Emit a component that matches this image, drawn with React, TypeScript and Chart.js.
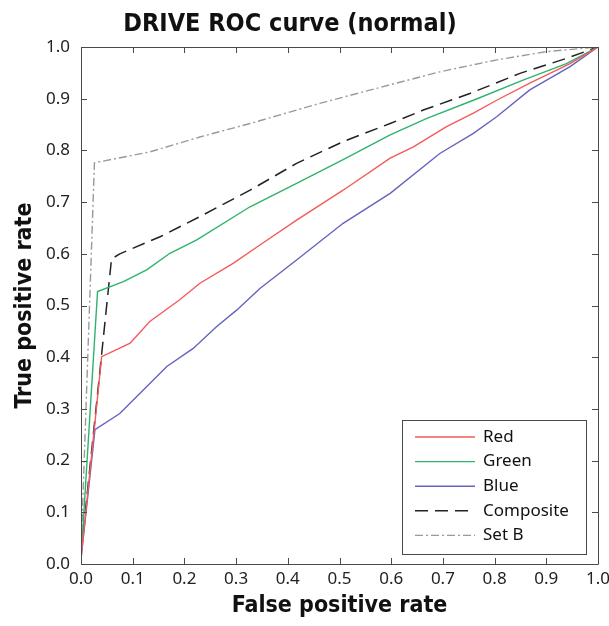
import React, { useEffect, useRef } from 'react';
import { Chart, registerables } from 'chart.js';

Chart.register(...registerables);

// ---- Data ----
const chartTitle = 'DRIVE ROC curve (normal)';
const xAxisTitle = 'False positive rate';
const yAxisTitle = 'True positive rate';
const seriesLabels = ['Red', 'Green', 'Blue', 'Composite', 'Set B'];
const tickValues = [0, 0.1, 0.2, 0.3, 0.4, 0.5, 0.6, 0.7, 0.8, 0.9, 1.0];

const redFpr = [0, 0.040, 0.095, 0.133, 0.191, 0.230, 0.295, 0.346, 0.417, 0.507, 0.598, 0.643, 0.707, 0.759, 0.804, 0.868, 0.946, 1.0];
const redTpr = [0.01, 0.401, 0.427, 0.469, 0.511, 0.543, 0.582, 0.617, 0.665, 0.723, 0.785, 0.807, 0.846, 0.872, 0.897, 0.930, 0.968, 1.0];

const greenFpr = [0, 0.032, 0.082, 0.127, 0.172, 0.224, 0.327, 0.417, 0.507, 0.598, 0.669, 0.759, 0.855, 0.939, 1.0];
const greenTpr = [0.01, 0.527, 0.546, 0.569, 0.601, 0.627, 0.691, 0.736, 0.782, 0.830, 0.862, 0.897, 0.936, 0.968, 1.0];

const blueFpr = [0, 0.027, 0.075, 0.121, 0.166, 0.217, 0.262, 0.301, 0.346, 0.417, 0.507, 0.598, 0.694, 0.759, 0.804, 0.868, 0.946, 1.0];
const blueTpr = [0.01, 0.26, 0.291, 0.337, 0.382, 0.417, 0.459, 0.491, 0.533, 0.588, 0.659, 0.717, 0.794, 0.833, 0.865, 0.917, 0.962, 1.0];

const compositeFpr = [0, 0.059, 0.075, 0.153, 0.230, 0.327, 0.417, 0.507, 0.598, 0.662, 0.752, 0.849, 0.939, 1.0];
const compositeTpr = [0.02, 0.59, 0.60, 0.633, 0.672, 0.723, 0.775, 0.817, 0.852, 0.878, 0.910, 0.949, 0.978, 1.0];

const setBFpr = [0, 0.026, 0.133, 0.230, 0.327, 0.462, 0.598, 0.694, 0.804, 0.90, 1.0];
const setBTpr = [0.02, 0.776, 0.797, 0.826, 0.852, 0.891, 0.927, 0.952, 0.975, 0.991, 1.0];

const toPoints = (xs: number[], ys: number[]) => xs.map((x, i) => ({ x, y: ys[i] }));

const CONDENSED = "'Liberation Sans Narrow', 'DejaVu Sans Condensed', 'Liberation Sans', sans-serif";
const REGULAR = "'Noto Sans', 'Open Sans', sans-serif";

const framePlugin = {
  id: 'matlabFrame',
  afterDatasetsDraw(chart: any) {
    const { ctx, chartArea, scales } = chart;
    const { left, right, top, bottom } = chartArea;
    const xs = scales.x;
    const ys = scales.y;
    ctx.save();
    ctx.strokeStyle = '#4a4a4a';
    ctx.lineWidth = 1;
    ctx.beginPath();
    ctx.rect(Math.round(left) + 0.5, Math.round(top) + 0.5, Math.round(right - left), Math.round(bottom - top));
    ctx.stroke();
    const tl = 6;
    ctx.beginPath();
    tickValues.forEach((v) => {
      const px = Math.round(xs.getPixelForValue(v)) + 0.5;
      ctx.moveTo(px, bottom);
      ctx.lineTo(px, bottom - tl);
      ctx.moveTo(px, top);
      ctx.lineTo(px, top + tl);
      const py = Math.round(ys.getPixelForValue(v)) + 0.5;
      ctx.moveTo(left, py);
      ctx.lineTo(left + tl, py);
      ctx.moveTo(right, py);
      ctx.lineTo(right - tl, py);
    });
    ctx.stroke();
    ctx.restore();
  },
  afterDraw(chart: any) {
    const { ctx } = chart;
    ctx.save();
    // Title
    ctx.fillStyle = '#111';
    ctx.font = `bold 25px ${CONDENSED}`;
    ctx.textAlign = 'center';
    ctx.textBaseline = 'middle';
    ctx.fillText(chartTitle, 290, 24);

    // Legend box
    const bx = 402.5, by = 420.5, bw = 184, bh = 134;
    ctx.fillStyle = '#fff';
    ctx.fillRect(bx, by, bw, bh);
    ctx.strokeStyle = '#4a4a4a';
    ctx.lineWidth = 1;
    ctx.strokeRect(bx, by, bw, bh);
    ctx.font = `17px ${REGULAR}`;
    ctx.textAlign = 'left';
    ctx.textBaseline = 'middle';
    chart.data.datasets.forEach((ds: any, i: number) => {
      const yy = 437 + i * 24.6;
      ctx.save();
      ctx.strokeStyle = ds.borderColor;
      ctx.lineWidth = ds.borderWidth;
      ctx.setLineDash(ds.borderDash || []);
      ctx.beginPath();
      ctx.moveTo(415, yy);
      ctx.lineTo(475, yy);
      ctx.stroke();
      ctx.restore();
      ctx.fillStyle = '#111';
      ctx.fillText(ds.label, 483, yy);
    });
    ctx.restore();
  },
};

export default function App() {
  const canvasRef = useRef<HTMLCanvasElement | null>(null);

  useEffect(() => {
    document.body.style.margin = '0';
    const canvas = canvasRef.current;
    if (!canvas) return;
    const chart = new Chart(canvas, {
      type: 'line',
      data: {
        datasets: [
          { label: seriesLabels[0], data: toPoints(redFpr, redTpr), borderColor: '#f45a5a', borderWidth: 1.4, pointRadius: 0, tension: 0 },
          { label: seriesLabels[1], data: toPoints(greenFpr, greenTpr), borderColor: '#2fb36c', borderWidth: 1.4, pointRadius: 0, tension: 0 },
          { label: seriesLabels[2], data: toPoints(blueFpr, blueTpr), borderColor: '#6464bc', borderWidth: 1.4, pointRadius: 0, tension: 0 },
          { label: seriesLabels[3], data: toPoints(compositeFpr, compositeTpr), borderColor: '#222222', borderWidth: 1.5, borderDash: [13, 7], pointRadius: 0, tension: 0 },
          { label: seriesLabels[4], data: toPoints(setBFpr, setBTpr), borderColor: '#9a9a9a', borderWidth: 1.4, borderDash: [8, 3, 2, 3], pointRadius: 0, tension: 0 },
        ],
      },
      options: {
        responsive: false,
        animation: false,
        devicePixelRatio: 1,
        layout: { padding: { top: 47, right: 11, left: 0, bottom: 0 } },
        plugins: {
          legend: { display: false },
          title: { display: false },
          tooltip: { enabled: false },
        },
        scales: {
          x: {
            type: 'linear',
            min: 0,
            max: 1,
            afterBuildTicks: (scale: any) => {
              scale.ticks = tickValues.map((v) => ({ value: v }));
            },
            afterFit: (scale: any) => {
              scale.height = 62;
              scale.paddingLeft = 0;
              scale.paddingRight = 0;
            },
            ticks: {
              padding: 5,
              color: '#222',
              font: { family: REGULAR, size: 17 },
              maxRotation: 0,
              autoSkip: false,
              callback: (v: any) => Number(v).toFixed(1),
            },
            grid: { display: false, drawTicks: false },
            border: { display: false },
            title: {
              display: true,
              text: xAxisTitle,
              color: '#111',
              font: { family: CONDENSED, size: 23, weight: 'bold' },
              padding: { top: 0, bottom: 6 },
            },
          },
          y: {
            type: 'linear',
            min: 0,
            max: 1,
            afterBuildTicks: (scale: any) => {
              scale.ticks = tickValues.map((v) => ({ value: v }));
            },
            afterFit: (scale: any) => {
              scale.width = 81;
              scale.paddingTop = 0;
              scale.paddingBottom = 0;
            },
            ticks: {
              padding: 11,
              color: '#222',
              font: { family: REGULAR, size: 17 },
              autoSkip: false,
              callback: (v: any) => Number(v).toFixed(1),
            },
            grid: { display: false, drawTicks: false },
            border: { display: false },
            title: {
              display: true,
              text: yAxisTitle,
              color: '#111',
              font: { family: CONDENSED, size: 23, weight: 'bold' },
              padding: { top: 11, bottom: 0 },
            },
          },
        },
      },
      plugins: [framePlugin],
    } as any);
    return () => chart.destroy();
  }, []);

  return (
    <div style={{ width: 609, height: 626, background: '#fff' }}>
      <canvas ref={canvasRef} width={609} height={626} style={{ display: 'block' }} />
    </div>
  );
}
